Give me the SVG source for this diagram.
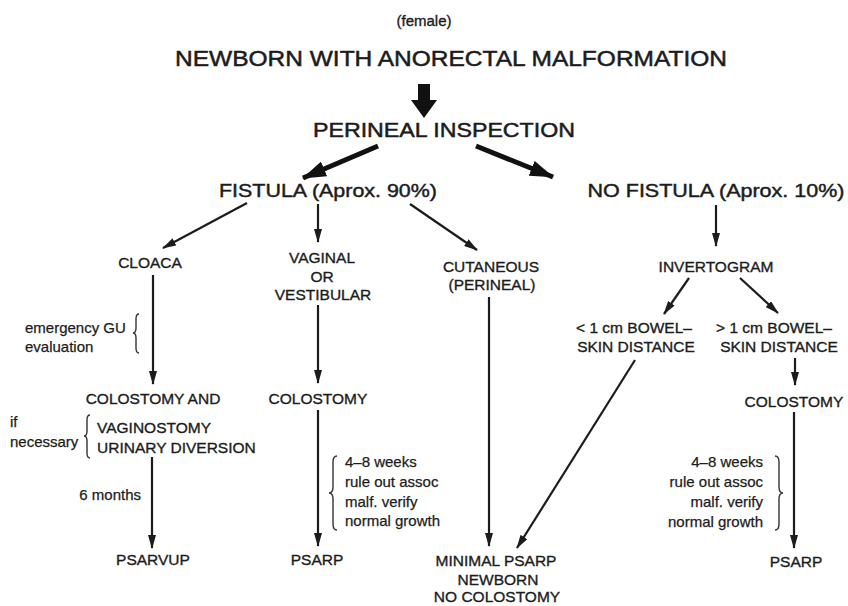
<svg xmlns="http://www.w3.org/2000/svg" width="848" height="606" viewBox="0 0 848 606">
<defs>
<style>
text{font-family:"Liberation Sans",Arial,sans-serif;fill:#1c1c1c;stroke:#1c1c1c;stroke-width:0.35}
.t{font-size:15.5px;text-anchor:middle}
.a{font-size:15px;stroke-width:0.25}
.h{font-size:19px;text-anchor:middle;stroke-width:0.45}
.ln{stroke:#1c1c1c;stroke-width:2.2;fill:none}
.tk{stroke:#111;stroke-width:5;fill:none}
.br{stroke:#333;stroke-width:1.4;fill:none}
</style>
<marker id="ah" viewBox="0 0 14 8" refX="13" refY="4" markerWidth="14" markerHeight="8" markerUnits="userSpaceOnUse" orient="auto"><path d="M0,0 L14,4 L0,8 z" fill="#1c1c1c"/></marker>
<marker id="ahb" viewBox="0 0 24 16" refX="23" refY="8" markerWidth="24" markerHeight="16" markerUnits="userSpaceOnUse" orient="auto"><path d="M0,0 L24,8 L0,16 z" fill="#111"/></marker>
</defs>
<rect width="848" height="606" fill="#fff"/>

<g id="connectors">
<polygon points="418,84 430,84 430,100 437,100 424,118 411,100 418,100" fill="#111"/>
<line class="tk" x1="378" y1="146" x2="303" y2="178" marker-end="url(#ahb)"/>
<line class="tk" x1="476" y1="146" x2="553" y2="177" marker-end="url(#ahb)"/>
<line class="ln" x1="247" y1="203" x2="163" y2="248" stroke-width="3" marker-end="url(#ah)"/>
<line class="ln" x1="318" y1="204" x2="318" y2="242" stroke-width="3" marker-end="url(#ah)"/>
<line class="ln" x1="410" y1="204" x2="477" y2="250" stroke-width="3" marker-end="url(#ah)"/>
<line class="ln" x1="716" y1="205" x2="716" y2="246" stroke-width="2.6" marker-end="url(#ah)"/>
<line class="ln" x1="153" y1="275" x2="153" y2="384" marker-end="url(#ah)"/>
<line class="ln" x1="152" y1="457" x2="152" y2="548" marker-end="url(#ah)"/>
<line class="ln" x1="318" y1="305" x2="318" y2="383" marker-end="url(#ah)"/>
<line class="ln" x1="318" y1="410" x2="318" y2="546" marker-end="url(#ah)"/>
<line class="ln" x1="489" y1="297" x2="489" y2="546" marker-end="url(#ah)"/>
<line class="ln" x1="689" y1="278" x2="664" y2="314" marker-end="url(#ah)"/>
<line class="ln" x1="740" y1="278" x2="778" y2="313" marker-end="url(#ah)"/>
<line class="ln" x1="795" y1="358" x2="795" y2="385" marker-end="url(#ah)"/>
<line class="ln" x1="794" y1="412" x2="794" y2="548" marker-end="url(#ah)"/>
<line class="ln" x1="635" y1="360" x2="517" y2="548" marker-end="url(#ah)"/>
</g>

<g id="n-female"><text x="424" y="26" style="font-size:15px;text-anchor:middle">(female)</text></g>
<g id="n-newborn"><text x="451" y="66" style="font-size:22px;text-anchor:middle;stroke-width:0.5" textLength="552" lengthAdjust="spacingAndGlyphs">NEWBORN WITH ANORECTAL MALFORMATION</text></g>
<g id="n-perineal"><text x="444" y="137" style="font-size:21px;text-anchor:middle;stroke-width:0.5" textLength="262" lengthAdjust="spacingAndGlyphs">PERINEAL INSPECTION</text></g>
<g id="n-fistula"><text class="h" x="328" y="197" textLength="218" lengthAdjust="spacingAndGlyphs">FISTULA (Aprox. 90%)</text></g>
<g id="n-nofistula"><text class="h" x="716" y="197" textLength="257" lengthAdjust="spacingAndGlyphs">NO FISTULA (Aprox. 10%)</text></g>

<g id="n-cloaca"><text class="t" x="150" y="268">CLOACA</text></g>
<g id="n-vaginal"><text class="t" x="322" y="263">VAGINAL</text><text class="t" x="322" y="282">OR</text><text class="t" x="323" y="300">VESTIBULAR</text></g>
<g id="n-cutaneous"><text class="t" x="491" y="272">CUTANEOUS</text><text class="t" x="492" y="290">(PERINEAL)</text></g>
<g id="n-invertogram"><text class="t" x="716" y="272">INVERTOGRAM</text></g>
<g id="n-lt1"><text class="t" x="634" y="333">&lt; 1 cm BOWEL–</text><text class="t" x="636" y="352">SKIN DISTANCE</text></g>
<g id="n-gt1"><text class="t" x="774" y="333">&gt; 1 cm BOWEL–</text><text class="t" x="779" y="352">SKIN DISTANCE</text></g>

<g id="ann-emergency"><text class="a" x="25" y="333">emergency GU</text><text class="a" x="25" y="352">evaluation</text><path class="br" d="M139,314 Q136,314 136,319 L136,328 Q136,333 133,333 Q136,333 136,338 L136,348 Q136,353 139,353"/></g>

<g id="n-colostomy-and"><text class="t" x="153" y="404">COLOSTOMY AND</text><text class="t" x="97" y="433" style="text-anchor:start">VAGINOSTOMY</text><text class="t" x="97" y="453" style="text-anchor:start">URINARY DIVERSION</text></g>
<g id="ann-ifnec"><text class="a" x="10" y="427">if</text><text class="a" x="10" y="447">necessary</text><path class="br" d="M90,415 Q87,415 87,420 L87,431 Q87,436 84,436 Q87,436 87,441 L87,453 Q87,458 90,458"/></g>
<g id="ann-6m"><text class="a" x="141" y="500" style="text-anchor:end">6 months</text></g>
<g id="n-psarvup"><text class="t" x="153" y="565">PSARVUP</text></g>

<g id="n-colostomy-v"><text class="t" x="318" y="404">COLOSTOMY</text></g>
<g id="ann-v"><text class="a" x="345" y="467">4–8 weeks</text><text class="a" x="345" y="487">rule out assoc</text><text class="a" x="345" y="507">malf. verify</text><text class="a" x="345" y="526">normal growth</text><path class="br" d="M337,456 Q333,456 333,462 L333,487 Q333,493 329,493 Q333,493 333,499 L333,524 Q333,530 337,530"/></g>
<g id="n-psarp-v"><text class="t" x="317" y="565">PSARP</text></g>

<g id="n-minimal"><text class="t" x="496" y="566">MINIMAL PSARP</text><text class="t" x="498" y="585">NEWBORN</text><text class="t" x="497" y="602">NO COLOSTOMY</text></g>

<g id="n-colostomy-r"><text class="t" x="794" y="407">COLOSTOMY</text></g>
<g id="ann-r"><text class="a" x="763" y="467" style="text-anchor:end">4–8 weeks</text><text class="a" x="763" y="487" style="text-anchor:end">rule out assoc</text><text class="a" x="763" y="507" style="text-anchor:end">malf. verify</text><text class="a" x="763" y="527" style="text-anchor:end">normal growth</text><path class="br" d="M775,456 Q779,456 779,462 L779,487 Q779,493 783,493 Q779,493 779,499 L779,524 Q779,530 775,530"/></g>
<g id="n-psarp-r"><text class="t" x="796" y="567">PSARP</text></g>
</svg>
